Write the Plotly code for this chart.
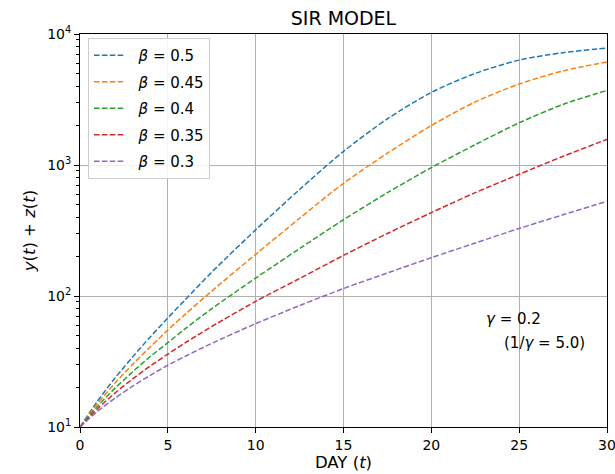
import plotly.graph_objects as go

# Values
days = [0, 1, 2, 3, 4, 5, 6, 7.5, 10, 12.5, 15, 17.5, 20, 22.5, 25, 27.5, 30]
beta_050 = [10, 15.8, 23.7, 34.3, 48.7, 68, 94, 152, 320, 650, 1270, 2250, 3580, 5000, 6320, 7200, 7800]
beta_045 = [10, 15.1, 21.7, 30.1, 40.9, 55, 72.7, 109, 208, 392, 725, 1230, 2000, 3030, 4150, 5230, 6120]
beta_040 = [10, 14.4, 19.8, 26.4, 34.5, 44, 56.4, 80, 137, 230, 382, 615, 955, 1430, 2100, 2900, 3710]
beta_035 = [10, 13.8, 18.2, 23.3, 29.2, 36, 44, 58.5, 91, 136, 204, 300, 433, 615, 849, 1165, 1570]
beta_030 = [10, 13.2, 16.6, 20.5, 24.8, 29.6, 34.7, 43.5, 61.5, 84.5, 114, 150, 196, 254, 328, 417, 528]

series_names = ["\u00a0\u00a0<i>β</i> = 0.5", "\u00a0\u00a0<i>β</i> = 0.45", "\u00a0\u00a0<i>β</i> = 0.4",
                "\u00a0\u00a0<i>β</i> = 0.35", "\u00a0\u00a0<i>β</i> = 0.3"]
series_values = [beta_050, beta_045, beta_040, beta_035, beta_030]
colors = ["#1f77b4", "#ff7f0e", "#2ca02c", "#d62728", "#9467bd"]

x_ticks = [0, 5, 10, 15, 20, 25, 30]
y_ticks = [10, 100, 1000, 10000]
y_ticktext = ["10<sup>1</sup>", "10<sup>2</sup>", "10<sup>3</sup>", "10<sup>4</sup>"]
y_minor = [m * 10 ** k for k in range(1, 4) for m in range(2, 10)]

FONT = "DejaVu Sans"

fig = go.Figure()
for i, (name, vals, col) in enumerate(zip(series_names, series_values, colors)):
    fig.add_trace(go.Scatter(
        x=days, y=vals, name=name, mode="lines",
        line=dict(color=col, width=1.5, dash="5.5px,2.4px", shape="spline", smoothing=0.8),
        legendgroup=f"g{i}",
    ))

fig.add_annotation(x=23.0, y=0.274, xref="x", yref="paper", text="<i>γ</i> = 0.2",
                   showarrow=False, xanchor="left", yanchor="middle",
                   font=dict(family=FONT, size=15, color="black"))
fig.add_annotation(x=24.0, y=0.2145, xref="x", yref="paper", text="(1/<i>γ</i> = 5.0)",
                   showarrow=False, xanchor="left", yanchor="middle",
                   font=dict(family=FONT, size=15, color="black"))

fig.update_layout(
    width=615, height=474,
    margin=dict(l=80, r=8, t=34, b=47),
    paper_bgcolor="white", plot_bgcolor="white",
    font=dict(family=FONT, size=14, color="black"),
    title=dict(text="SIR MODEL", x=0.5585, xanchor="center", y=1 - 18 / 474, yanchor="middle",
               yref="container", font=dict(family=FONT, size=19, color="black")),
    legend=dict(x=0.0152, y=0.99, xanchor="left", yanchor="top",
                bgcolor="rgba(255,255,255,0.85)", bordercolor="#cccccc", borderwidth=1,
                font=dict(family=FONT, size=15), tracegroupgap=4),
    showlegend=True,
)

fig.update_xaxes(
    range=[0, 30], tickvals=x_ticks, ticktext=[str(v) for v in x_ticks],
    automargin=False, ticklabeloverflow="allow",
    showline=True, linecolor="black", linewidth=1, mirror=True,
    ticks="outside", ticklen=5, tickcolor="black", tickwidth=1,
    showgrid=True, gridcolor="#b0b0b0", gridwidth=0.8, zeroline=False,
    title=dict(text="DAY (<i>t</i>)", standoff=2, font=dict(family=FONT, size=16.5)),
    tickfont=dict(family=FONT, size=14),
)
fig.update_yaxes(
    type="log", range=[1, 4], tickvals=y_ticks, ticktext=y_ticktext,
    automargin=False, ticklabeloverflow="allow",
    showline=True, linecolor="black", linewidth=1, mirror=True,
    ticks="outside", ticklen=5, tickcolor="black", tickwidth=1,
    showgrid=True, gridcolor="#b0b0b0", gridwidth=0.8, zeroline=False,
    minor=dict(tickvals=y_minor, ticks="outside", ticklen=3, tickcolor="black", showgrid=False),
    title=dict(text="<i>y</i>(<i>t</i>) + <i>z</i>(<i>t</i>)", standoff=7, font=dict(family=FONT, size=16.5)),
    tickfont=dict(family=FONT, size=14),
)

fig.write_html("out.html", config={"displayModeBar": False},
               post_script="document.body.style.margin='0';")
